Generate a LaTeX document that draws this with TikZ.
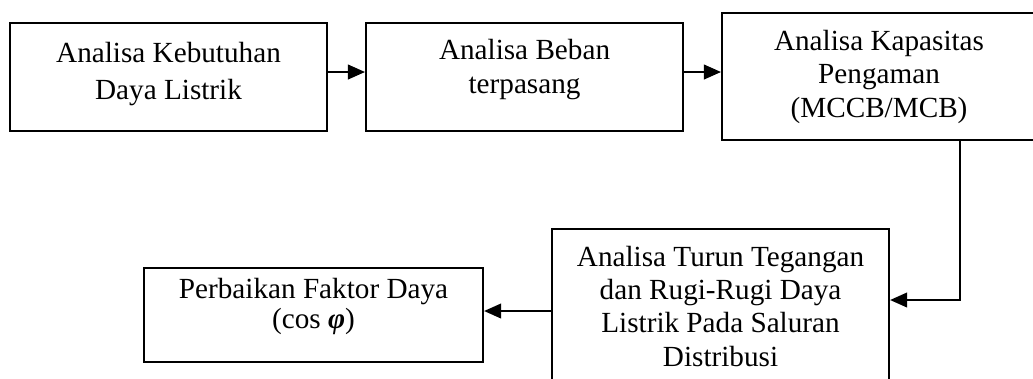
\documentclass[tikz,border=0pt]{standalone}
\usepackage{amsmath}
\usepackage{fontspec}
\setmainfont{Liberation Serif}
\usetikzlibrary{arrows.meta}

\newdimen\pu
\pu=0.411pt

\tikzset{
	kotak/.style={draw, line width=0.85pt, anchor=north west, align=center, inner sep=0pt},
	panah/.style={-{Triangle[length=7pt,width=6pt]}, line width=0.85pt},
}

\begin{document}
\begin{tikzpicture}[x=0.411pt, y=-0.411pt]
			
			\clip (0,0) rectangle (1033,378);
			
			\node[kotak, minimum width=317\pu, text height=76\pu, text depth=32\pu, font=\fontsize{12pt}{15.2pt}\selectfont] (kebutuhan) at (9,22) {Analisa Kebutuhan\\Daya Listrik};
			\node[kotak, minimum width=317\pu, text height=70\pu, text depth=38\pu, font=\fontsize{12pt}{13.6pt}\selectfont] (beban) at (365,22) {Analisa Beban\\terpasang};
			\node[kotak, minimum width=314\pu, text height=104\pu, text depth=23\pu, font=\fontsize{12pt}{13.6pt}\selectfont] (pengaman) at (721,12) {Analisa Kapasitas\\Pengaman\\(MCCB/MCB)};
			\node[kotak, minimum width=337\pu, text height=137\pu, text depth=25\pu, font=\fontsize{12pt}{13.7pt}\selectfont] (turun) at (551,228) {Analisa Turun Tegangan\\dan Rugi-Rugi Daya\\Listrik Pada Saluran\\Distribusi};
			\node[kotak, minimum width=339\pu, text height=60\pu, text depth=34\pu, font=\fontsize{12pt}{12.3pt}\selectfont] (faktor) at (143,267) {Perbaikan Faktor Daya\\(cos {\bfseries\itshape φ})};
			
			\coordinate (jalur) at (0,72);
			\coordinate (belok) at (960,300);
			
			\draw[panah] (kebutuhan.east |- jalur) -- (beban.west |- jalur);
			\draw[panah] (beban.east |- jalur) -- (pengaman.west |- jalur);
			\draw[panah] (pengaman.south -| belok) -- (belok) -- (turun.east |- belok);
			\draw[panah] (turun.west |- 0,311) -- (faktor.east |- 0,311);
			%\draw[dashed] (pengaman.south) -- (turun.north);
			
			\end{tikzpicture}
\end{document}
